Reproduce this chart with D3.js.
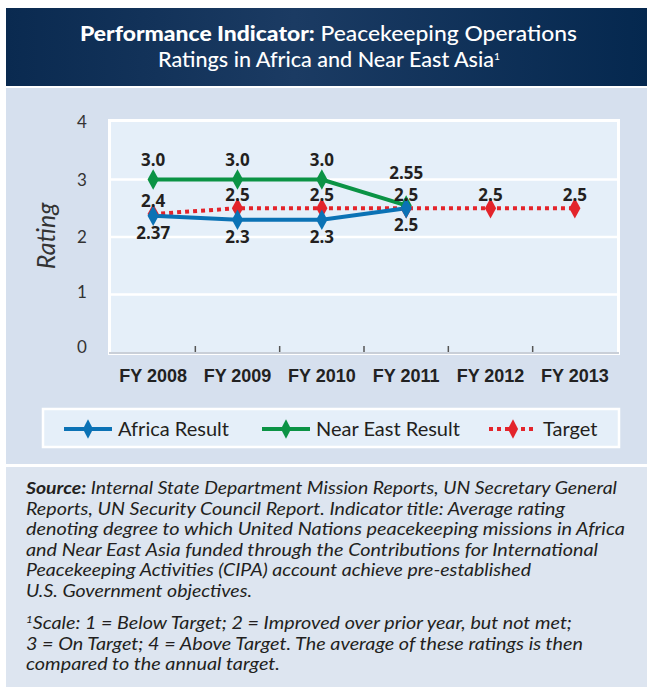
<!DOCTYPE html>
<html>
<head>
<meta charset="utf-8">
<script src="https://cdn.jsdelivr.net/npm/d3@7"></script>
<style>
  html, body { margin: 0; padding: 0; background: #ffffff; }
  svg { display: block; }
</style>
</head>
<body>
<script>
// ---------- data ----------
const years = ["FY 2008", "FY 2009", "FY 2010", "FY 2011", "FY 2012", "FY 2013"];
const africaResult = [2.37, 2.3, 2.3, 2.5, null, null];
const nearEastResult = [3.0, 3.0, 3.0, 2.55, null, null];
const target = [2.4, 2.5, 2.5, 2.5, 2.5, 2.5];
const yTicks = [0, 1, 2, 3, 4];
const seriesNames = ["Africa Result", "Near East Result", "Target"];
const titleBold = "Performance Indicator:";
const titleRest1 = " Peacekeeping Operations";
const titleLine2 = "Ratings in Africa and Near East Asia";
const footerPara1 = [
  "Internal State Department Mission Reports, UN Secretary General",
  "Reports, UN Security Council Report. Indicator title: Average rating",
  "denoting degree to which United Nations peacekeeping missions in Africa",
  "and Near East Asia funded through the Contributions for International",
  "Peacekeeping Activities (CIPA) account achieve pre-established",
  "U.S. Government objectives."
];
const footerPara2 = [
  "Scale:  1 = Below Target; 2 = Improved over prior year, but not met;",
  "3 = On Target; 4 = Above Target. The average of these ratings is then",
  "compared to the annual target."
];

// layout (pixel widths of the footer lines, as in the reference)
const footerWidths1 = [591, 539, 599, 572, 505, 226];
const footerWidths2 = [546, 557, 254];

// ---------- setup ----------
const W = 647, H = 687;
const svg = d3.select("body").append("svg").attr("width", W).attr("height", H);
const defs = svg.append("defs");
const grad = defs.append("linearGradient").attr("id", "hdr").attr("x1", "0").attr("x2", "1").attr("y1", "0").attr("y2", "0");
grad.append("stop").attr("offset", "0").attr("stop-color", "#0a2a50");
grad.append("stop").attr("offset", "0.45").attr("stop-color", "#1b3b63");
grad.append("stop").attr("offset", "1").attr("stop-color", "#05284f");

// header
svg.append("rect").attr("x", 6).attr("y", 8).attr("width", W - 6).attr("height", 78).attr("fill", "url(#hdr)");
const titleFont = "Lato, 'Open Sans', sans-serif";
const t1 = svg.append("text").attr("x", 80).attr("y", 41)
  .attr("fill", "#ffffff").attr("font-family", titleFont).attr("font-size", 21)
  .attr("textLength", 497).attr("lengthAdjust", "spacingAndGlyphs");
t1.append("tspan").attr("font-weight", 900).text(titleBold);
t1.append("tspan").attr("font-weight", 500).text(titleRest1);
const t2 = svg.append("text").attr("x", 158).attr("y", 67)
  .attr("fill", "#ffffff").attr("font-family", titleFont).attr("font-size", 21).attr("font-weight", 500)
  .attr("textLength", 342).attr("lengthAdjust", "spacingAndGlyphs");
t2.append("tspan").text(titleLine2);
t2.append("tspan").attr("dy", -7).attr("font-size", 10).text("1");

// chart panel
svg.append("rect").attr("x", 6).attr("y", 88).attr("width", W - 6).attr("height", 376).attr("fill", "#d6e0ee");
// footer panel
svg.append("rect").attr("x", 6).attr("y", 467).attr("width", W - 6).attr("height", H - 467).attr("fill", "#dde5f0");

// ---------- scales ----------
const plotL = 111, plotR = 617, plotT = 122, plotB = 352;
const x = d3.scaleBand().domain(years).range([plotL, plotR]);
const cx = d => x(d) + x.bandwidth() / 2;
const y = d3.scaleLinear().domain([0, 4]).range([plotB, plotT]);

// plot area
svg.append("rect").attr("x", plotL - 1.5).attr("y", plotT - 1.5).attr("width", plotR - plotL + 3).attr("height", plotB - plotT + 3)
  .attr("fill", "#e5eff9").attr("stroke", "#ffffff").attr("stroke-width", 3);
// gridlines
svg.append("g").selectAll("line").data(yTicks.filter(v => v > 0 && v < 4)).join("line")
  .attr("x1", plotL).attr("x2", plotR).attr("y1", d => y(d)).attr("y2", d => y(d))
  .attr("stroke", "#ffffff").attr("stroke-width", 2.5);
// bottom axis line
svg.append("line").attr("x1", plotL - 2).attr("x2", plotR + 2).attr("y1", plotB + 1).attr("y2", plotB + 1)
  .attr("stroke", "#c9cfd8").attr("stroke-width", 2);
// ticks at band boundaries
svg.append("g").selectAll("line").data(years.slice(1)).join("line")
  .attr("x1", d => x(d)).attr("x2", d => x(d)).attr("y1", plotB - 6).attr("y2", plotB)
  .attr("stroke", "#555555").attr("stroke-width", 1.5);

// y axis
const yAxis = svg.append("g").attr("transform", `translate(${plotL - 22},0)`)
  .call(d3.axisLeft(y).tickValues(yTicks).tickSize(0).tickFormat(d3.format("d")));
yAxis.select(".domain").remove();
yAxis.selectAll("text").attr("font-family", titleFont).attr("font-size", 17).attr("fill", "#333333")
  .attr("text-anchor", "middle").attr("x", -7).attr("dy", "0.36em");
yAxis.selectAll(".tick").attr("transform", d => `translate(0,${y(d) - (d < 2 ? (2 - d) * 2.5 : 0)})`);

// x axis
const xAxis = svg.append("g").attr("transform", `translate(0,${plotB + 14})`)
  .call(d3.axisBottom(x).tickSize(0));
xAxis.select(".domain").remove();
xAxis.selectAll("text").attr("font-family", "'Liberation Sans Narrow', 'Arial Narrow', sans-serif")
  .attr("font-weight", 700).attr("font-size", 18).attr("fill", "#222222");

// y label
svg.append("text").attr("transform", "translate(55,236) rotate(-90)").attr("text-anchor", "middle")
  .attr("font-family", titleFont).attr("font-style", "italic").attr("font-size", 25).attr("fill", "#333333")
  .text("Rating");

// ---------- series ----------
const colors = { africa: "#0b72b5", near: "#0b9345", target: "#e3242b" };
const mk = (arr) => years.map((yr, i) => ({ yr, v: arr[i], i })).filter(d => d.v != null);
const line = d3.line().x(d => cx(d.yr)).y(d => y(d.v));
const diamond = d3.symbol().type(d3.symbolDiamond).size(110);

const series = [
  { key: "target", data: mk(target), color: colors.target, dash: "4,4" },
  { key: "near", data: mk(nearEastResult), color: colors.near, dash: null },
  { key: "africa", data: mk(africaResult), color: colors.africa, dash: null }
];

series.forEach(s => {
  svg.append("path").datum(s.data).attr("d", line).attr("fill", "none")
    .attr("stroke", s.color).attr("stroke-width", 4).attr("stroke-dasharray", s.dash);
});
series.forEach(s => {
  svg.append("g").selectAll("path").data(s.data).join("path")
    .attr("d", diamond).attr("transform", d => `translate(${cx(d.yr)},${y(d.v)}) scale(1,1.05)`)
    .attr("fill", s.color);
});

// data labels
const fmt = v => (Math.round(v * 10) === v * 10 ? v.toFixed(1) : String(v));
const labelG = svg.append("g").attr("font-family", "'Open Sans', sans-serif").attr("font-weight", 700)
  .attr("font-size", 17).attr("fill", "#231f20").attr("text-anchor", "middle");
const addLabels = (data, offsetFn) => {
  labelG.append("g").selectAll("text").data(data).join("text")
    .attr("x", d => cx(d.yr)).attr("y", d => y(d.v) + offsetFn(d)).text(d => fmt(d.v));
};
addLabels(mk(nearEastResult), d => {
  const t = target[d.i];
  return (Math.abs(d.v - t) < 0.3) ? -26 : -14;
});
addLabels(mk(target), d => -7);
addLabels(mk(africaResult), d => 23);

// ---------- legend ----------
svg.append("rect").attr("x", 43).attr("y", 409).attr("width", 576).attr("height", 38)
  .attr("fill", "#e5eff9").attr("stroke", "#ffffff").attr("stroke-width", 2.5);
const legendItems = [
  { name: seriesNames[0], color: colors.africa, dash: null, x0: 64 },
  { name: seriesNames[1], color: colors.near, dash: null, x0: 262 },
  { name: seriesNames[2], color: colors.target, dash: "4,4", x0: 489 }
];
const lg = svg.append("g");
legendItems.forEach(it => {
  const ly = 429;
  lg.append("line").attr("x1", it.x0).attr("x2", it.x0 + 48).attr("y1", ly).attr("y2", ly)
    .attr("stroke", it.color).attr("stroke-width", 4).attr("stroke-dasharray", it.dash);
  lg.append("path").attr("d", diamond).attr("transform", `translate(${it.x0 + 24},${ly}) scale(0.9,1)`).attr("fill", it.color);
  lg.append("text").attr("x", it.x0 + 54).attr("y", ly + 7).attr("font-family", titleFont)
    .attr("font-size", 20).attr("fill", "#231f20").text(it.name);
});

// ---------- footer ----------
const fg = svg.append("g").attr("font-family", "Lato, 'Open Sans', sans-serif").attr("font-style", "italic")
  .attr("font-size", 17).attr("fill", "#231f20");
footerPara1.forEach((ln, i) => {
  const t = fg.append("text").attr("x", 26).attr("y", 494 + i * 20.6)
    .attr("textLength", footerWidths1[i]).attr("lengthAdjust", "spacingAndGlyphs");
  if (i === 0) {
    t.append("tspan").attr("font-weight", 700).text("Source:");
    t.append("tspan").text(" " + ln);
  } else t.text(ln);
});
footerPara2.forEach((ln, i) => {
  const t = fg.append("text").attr("x", 26).attr("y", 629 + i * 20.6)
    .attr("textLength", footerWidths2[i]).attr("lengthAdjust", "spacingAndGlyphs");
  if (i === 0) {
    t.append("tspan").attr("font-size", 10).attr("dy", -6).text("1");
    t.append("tspan").attr("dy", 6).text(ln);
  } else t.text(ln);
});
</script>
</body>
</html>
